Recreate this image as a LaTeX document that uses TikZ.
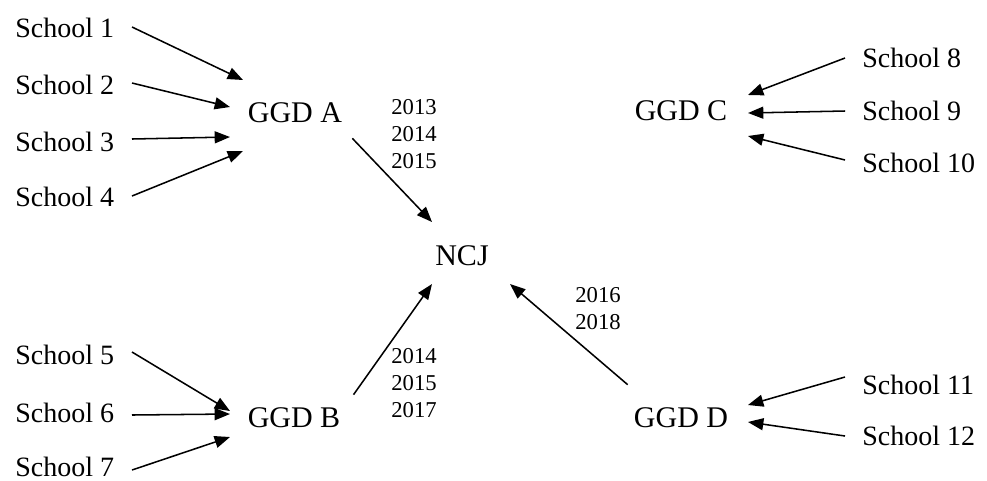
\documentclass[tikz,border=0pt]{standalone}
\usepackage{fontspec}
\setmainfont{Liberation Serif}
\usetikzlibrary{arrows.meta}
\tikzset{
  school/.style={anchor=west, inner sep=0pt, font=\fontsize{21}{25}\selectfont},
  ggd/.style={inner sep=0pt, font=\fontsize{22.5}{26}\selectfont},
  years/.style={inner sep=0pt, align=center, font=\fontsize{17}{20.2}\selectfont},
  arr/.style={line width=1.15pt, -{Triangle[length=11.5pt,width=9pt]}}
}
\begin{document}
\begin{tikzpicture}[x=0.75pt, y=-0.75pt]
      \useasboundingbox (0,0) rectangle (987,480);
      % regional health services and the centre
      \node[ggd] (ggdA) at (295,113) {GGD A};
      \node[ggd] (ggdB) at (294,418) {GGD B};
      \node[ggd] (ggdC) at (681,111) {GGD C};
      \node[ggd] (ggdD) at (681,418) {GGD D};
      \node[ggd] (ncj) at (462,256) {NCJ};
      % schools
      \node[school] (s1) at (15,28) {School 1};
      \node[school] (s2) at (15,85) {School 2};
      \node[school] (s3) at (15,142) {School 3};
      \node[school] (s4) at (15,197) {School 4};
      \node[school] (s5) at (15,355) {School 5};
      \node[school] (s6) at (15,413) {School 6};
      \node[school] (s7) at (15,467) {School 7};
      \node[school] (s8) at (862,58) {School 8};
      \node[school] (s9) at (862,111) {School 9};
      \node[school] (s10) at (862,163) {School 10};
      \node[school] (s11) at (862,385) {School 11};
      \node[school] (s12) at (862,436) {School 12};
      % years
      \node[years] (yA) at (414,134) {2013\\2014\\2015};
      \node[years] (yB) at (414,383) {2014\\2015\\2017};
      \node[years] (yD) at (598,309) {2016\\2018};
      % arrow ends
      \coordinate (a1) at (243,80);
      \coordinate (a2) at (230,107);
      \coordinate (a3) at (230,137);
      \coordinate (a4) at (243,151);
      \coordinate (b5) at (230,411);
      \coordinate (b6) at (230,414);
      \coordinate (b7) at (230,437);
      \coordinate (c8) at (748,95);
      \coordinate (c9) at (748,113);
      \coordinate (c10) at (748,136);
      \coordinate (d11) at (748,405);
      \coordinate (d12) at (748,422);
      \coordinate (nA) at (432,222);
      \coordinate (nB) at (432,284);
      \coordinate (nD) at (510,284);
      % schools to GGD
      \draw[arr] (s1.west -| 132,0) ++(0,-1) -- (a1);
      \draw[arr] (s2.west -| 132,0) ++(0,-2) -- (a2);
      \draw[arr] (s3.west -| 132,0) ++(0,-3) -- (a3);
      \draw[arr] (s4.west -| 132,0) ++(0,-1) -- (a4);
      \draw[arr] (s5.west -| 132,0) ++(0,-3) -- (b5);
      \draw[arr] (s6.west -| 132,0) ++(0,2) -- (b6);
      \draw[arr] (s7.west -| 132,0) ++(0,3) -- (b7);
      \draw[arr] ([xshift=-12.75pt]s8.west) -- (c8);
      \draw[arr] ([xshift=-12.75pt]s9.west) -- (c9);
      \draw[arr] ([xshift=-12.75pt]s10.west) ++(0,-3) -- (c10);
      \draw[arr] ([xshift=-12.75pt]s11.west) ++(0,-8) -- (d11);
      \draw[arr] ([xshift=-12.75pt]s12.west) -- (d12);
      % GGD to NCJ
      \draw[arr] (ggdA.south east) ++(10,15) -- (nA);
      \draw[arr] (ggdB.north east) ++(13,-13) -- (nB);
      \draw[arr] (ggdD.north west) ++(-6,-23) -- (nD);
\end{tikzpicture}
\end{document}
